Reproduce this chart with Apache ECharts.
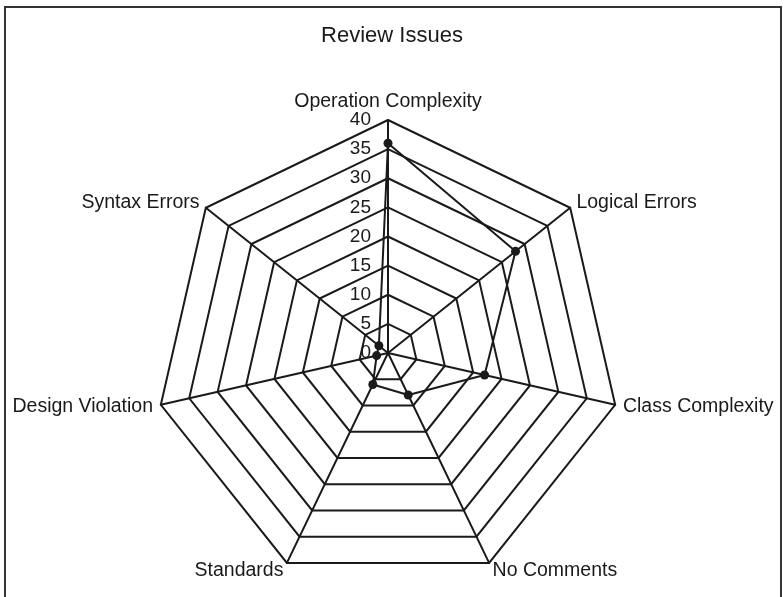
<!DOCTYPE html>
<html>
<head>
<meta charset="utf-8">
<script src="https://cdn.jsdelivr.net/npm/echarts@6/dist/echarts.min.js"></script>
<style>
  html, body { margin: 0; padding: 0; background: #fff; }
  #wrap { position: relative; width: 784px; height: 597px; overflow: hidden; }
  #frame { position: absolute; left: 4px; top: 6px; width: 774px; height: 620px;
           border: 2px solid #333; border-bottom: none; }
  #main { position: absolute; left: 0; top: 0; width: 784px; height: 597px; }
</style>
</head>
<body>
<div id="wrap">
  <div id="frame"></div>
  <div id="main"></div>
</div>
<script>
// indicators (clockwise from the top) and values
var indicators = ['Operation Complexity', 'Logical Errors', 'Class Complexity',
                  'No Comments', 'Standards', 'Design Violation', 'Syntax Errors'];
var issueValues = [36, 28, 17, 8, 6, 2, 2];
var axisMax = 40;
var axisStep = 5;

var font = '"Liberation Sans", Arial, Helvetica, sans-serif';
var ink = '#1a1a1a';

// echarts radar runs counter-clockwise, so keep the first axis and flip the rest
function clockwise(arr) {
  return [arr[0]].concat(arr.slice(1).reverse());
}

var chart = echarts.init(document.getElementById('main'));
chart.setOption({
  backgroundColor: 'transparent',
  animation: false,
  title: {
    text: 'Review Issues',
    left: 'center',
    top: 20,
    textStyle: { fontFamily: font, fontSize: 22, fontWeight: 'normal', color: ink }
  },
  radar: {
    center: [388, 353],
    radius: 233,
    startAngle: 90,
    shape: 'polygon',
    splitNumber: axisMax / axisStep,
    nameGap: 8,
    axisName: { color: ink, fontFamily: font, fontSize: 19.5 },
    axisLine: { lineStyle: { color: ink, width: 2 } },
    splitLine: { lineStyle: { color: ink, width: 2 } },
    splitArea: { show: false },
    indicator: clockwise(indicators).map(function (n) { return { name: n, min: 0, max: axisMax }; })
  },
  // value labels along the top axis
  grid: { left: 388, top: 120, width: 1, height: 233 },
  xAxis: { type: 'value', show: false },
  yAxis: {
    type: 'value', min: 0, max: axisMax, interval: axisStep,
    axisLine: { show: false }, axisTick: { show: false }, splitLine: { show: false },
    axisLabel: { margin: 17, color: ink, fontFamily: font, fontSize: 19 }
  },
  series: [{
    type: 'radar',
    symbol: 'circle',
    symbolSize: 9,
    itemStyle: { color: ink },
    lineStyle: { color: ink, width: 2 },
    data: [{ value: clockwise(issueValues), name: 'Review Issues' }]
  }]
});
</script>
</body>
</html>
